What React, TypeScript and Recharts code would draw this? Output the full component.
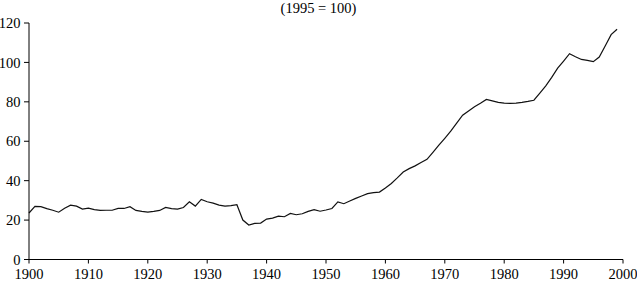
import { LineChart, Line, XAxis, YAxis } from 'recharts';

const years = [
    1900, 1901, 1902, 1903, 1904, 1905, 1906, 1907, 1908, 1909,
    1910, 1911, 1912, 1913, 1914, 1915, 1916, 1917, 1918, 1919,
    1920, 1921, 1922, 1923, 1924, 1925, 1926, 1927, 1928, 1929,
    1930, 1931, 1932, 1933, 1934, 1935, 1936, 1937, 1938, 1939,
    1940, 1941, 1942, 1943, 1944, 1945, 1946, 1947, 1948, 1949,
    1950, 1951, 1952, 1953, 1954, 1955, 1956, 1957, 1958, 1959,
    1960, 1961, 1962, 1963, 1964, 1965, 1966, 1967, 1968, 1969,
    1970, 1971, 1972, 1973, 1974, 1975, 1976, 1977, 1978, 1979,
    1980, 1981, 1982, 1983, 1984, 1985, 1986, 1987, 1988, 1989,
    1990, 1991, 1992, 1993, 1994, 1995, 1996, 1997, 1998, 1999,
];

const indexValues = [
    23.6, 27.0, 26.8, 25.8, 25.0, 24.0, 26.0, 27.6, 27.1, 25.6,
    26.1, 25.3, 24.9, 25.0, 25.0, 25.9, 25.9, 26.8, 24.9, 24.4,
    24.0, 24.4, 24.9, 26.4, 25.8, 25.6, 26.4, 29.3, 27.1, 30.5,
    29.3, 28.6, 27.6, 27.1, 27.3, 27.8, 20.0, 17.5, 18.3, 18.5,
    20.5, 21.0, 22.0, 21.7, 23.4, 22.7, 23.2, 24.4, 25.3, 24.5,
    25.1, 25.9, 29.2, 28.3, 29.7, 31.0, 32.2, 33.4, 33.9, 34.2,
    36.3, 38.6, 41.4, 44.4, 46.1, 47.5, 49.2, 50.8, 54.4, 58.0,
    61.5, 65.1, 69.2, 73.2, 75.4, 77.5, 79.3, 81.2, 80.5, 79.7,
    79.3, 79.2, 79.3, 79.7, 80.2, 80.8, 84.4, 88.1, 92.4, 97.1,
    100.7, 104.4, 102.9, 101.5, 101.0, 100.4, 102.7, 108.3, 114.1, 116.8,
];

const xTicks = [1900, 1910, 1920, 1930, 1940, 1950, 1960, 1970, 1980, 1990, 2000];
const yTicks = [0, 20, 40, 60, 80, 100, 120];

const data = years.map((year, i) => ({ year, value: indexValues[i] }));

const serif = '"Liberation Serif", "Times New Roman", serif';
const tickStyle = { fill: '#000', fontSize: 14.5, fontFamily: serif };

export default function App() {
    return (
        <div style={{ position: 'fixed', left: 0, top: 0, width: 637, height: 281, background: '#fff' }}>
            <div
                style={{
                    position: 'absolute',
                    left: 0,
                    width: 637,
                    top: 0,
                    textAlign: 'center',
                    fontFamily: serif,
                    fontSize: 14.5,
                    color: '#000',
                }}
            >
                (1995 = 100)
            </div>
            <LineChart width={637} height={281} data={data} margin={{ top: 23, right: 14, left: 0, bottom: 0 }}>
                <XAxis
                    dataKey="year"
                    type="number"
                    domain={[1900, 2000]}
                    ticks={xTicks}
                    height={21.5}
                    tickSize={4}
                    tickMargin={5}
                    stroke="#000"
                    tick={tickStyle}
                    interval={0}
                />
                <YAxis
                    type="number"
                    domain={[0, 120]}
                    ticks={yTicks}
                    width={29}
                    tickSize={5}
                    tickMargin={3.5}
                    stroke="#000"
                    tick={tickStyle}
                    interval={0}
                />
                <Line
                    type="linear"
                    dataKey="value"
                    stroke="#111"
                    strokeWidth={1.2}
                    dot={false}
                    isAnimationActive={false}
                />
            </LineChart>
        </div>
    );
}
